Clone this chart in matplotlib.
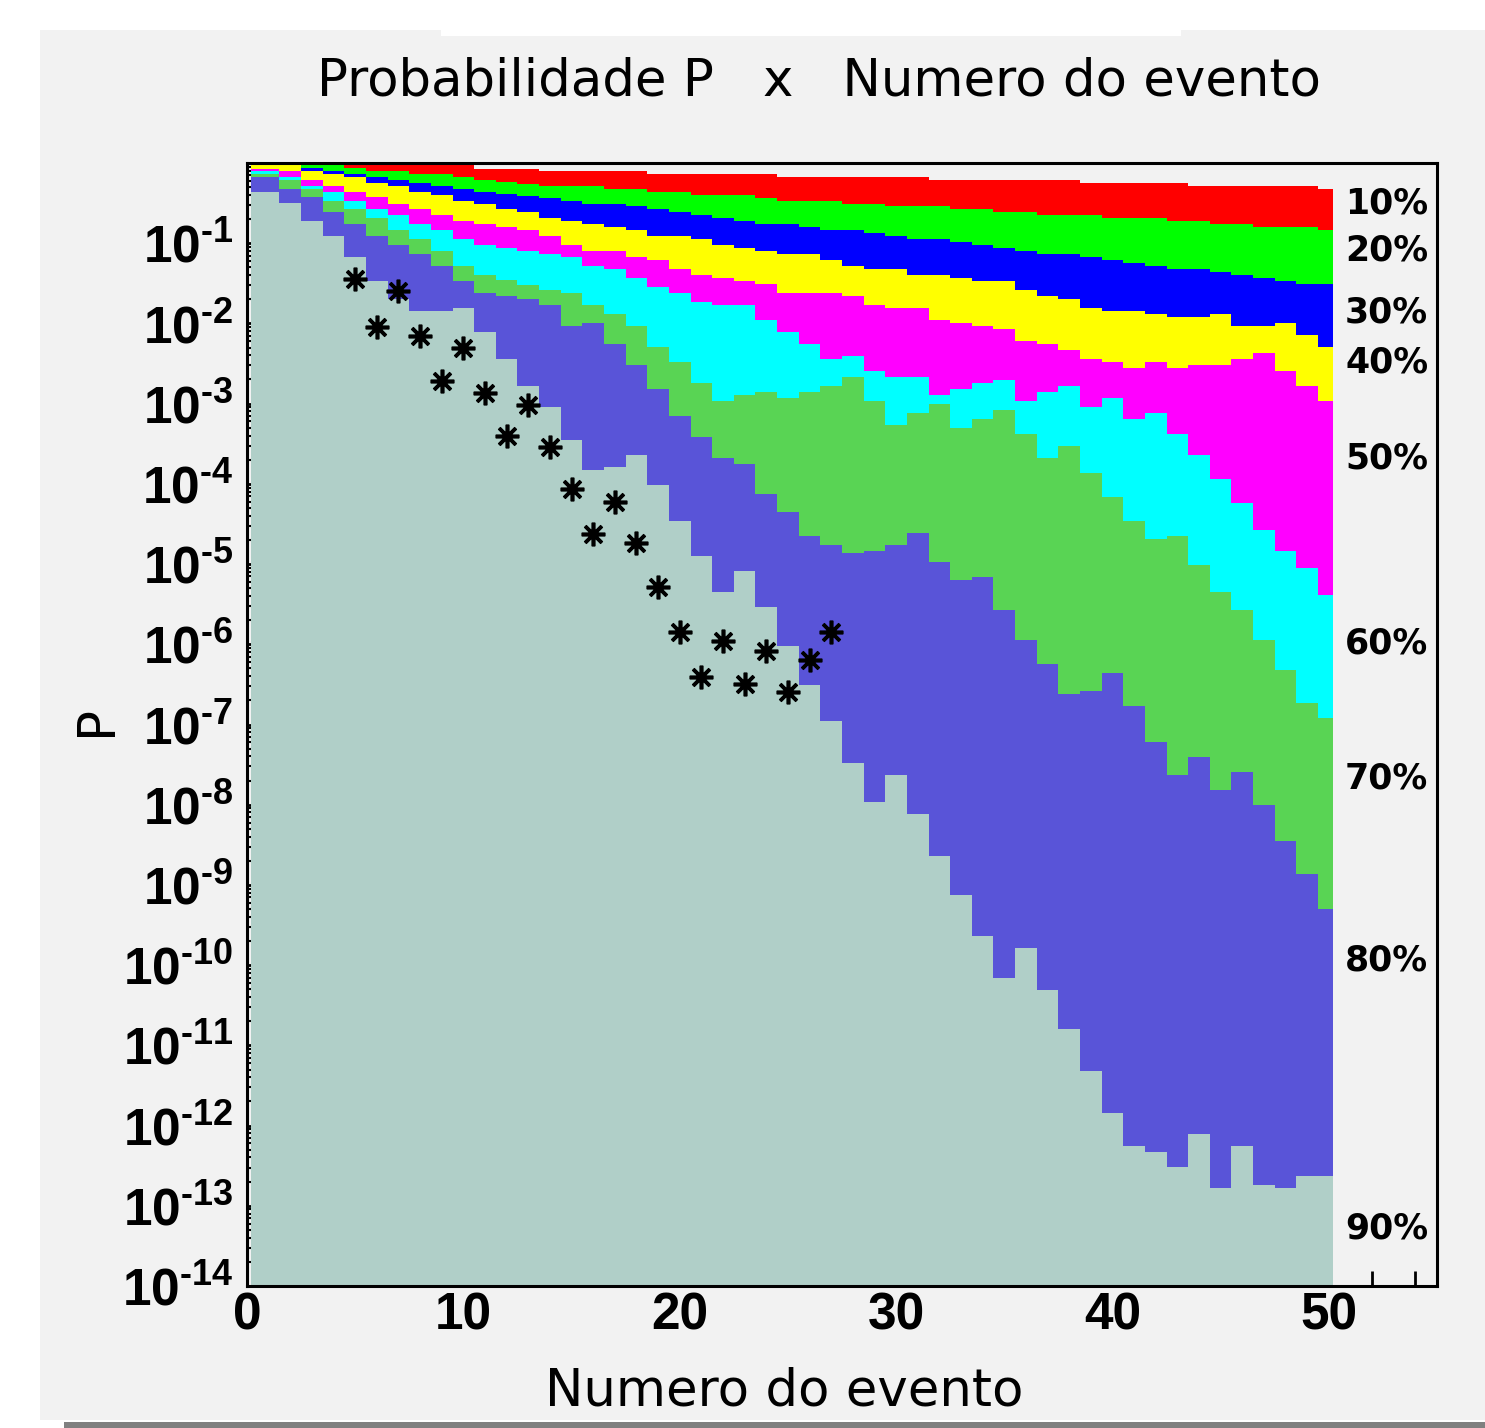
import numpy as np
import matplotlib.pyplot as plt
from matplotlib.patches import Rectangle
from matplotlib.ticker import FixedLocator, FixedFormatter, MultipleLocator, LogLocator, NullFormatter

plt.rcParams['mathtext.fontset'] = 'custom'
plt.rcParams['mathtext.rm'] = 'Liberation Sans:bold'
plt.rcParams['mathtext.it'] = 'Liberation Sans:bold'
plt.rcParams['mathtext.bf'] = 'Liberation Sans:bold'

# numero do evento (centro de cada bin)
evento = np.arange(1, 51)
# bordas dos bins como aparecem no grafico (primeiro e ultimo cortados)
bordas = np.concatenate([[0.2], np.arange(1.5, 50.0, 1.0), [50.2]])

# log10(P) de cada faixa
logp_10 = [0, 0, 0, 0, 0, 0, 0, -0.03, -0.03, -0.03,
           -0.07, -0.07, -0.07, -0.10, -0.10, -0.10, -0.10, -0.10, -0.14, -0.14,
           -0.14, -0.14, -0.14, -0.14, -0.18, -0.18, -0.18, -0.18, -0.18, -0.18,
           -0.18, -0.21, -0.21, -0.21, -0.21, -0.21, -0.21, -0.21, -0.25, -0.25,
           -0.25, -0.25, -0.25, -0.29, -0.29, -0.29, -0.29, -0.29, -0.29, -0.32]
logp_20 = [0, 0, 0, -0.03, -0.06, -0.10, -0.10, -0.14, -0.14, -0.18,
           -0.21, -0.24, -0.26, -0.29, -0.29, -0.29, -0.32, -0.32, -0.36, -0.36,
           -0.40, -0.40, -0.40, -0.44, -0.47, -0.47, -0.47, -0.51, -0.51, -0.54,
           -0.54, -0.54, -0.57, -0.57, -0.61, -0.61, -0.65, -0.65, -0.65, -0.69,
           -0.69, -0.69, -0.72, -0.72, -0.76, -0.76, -0.80, -0.80, -0.80, -0.84]
logp_30 = [0, 0, -0.06, -0.10, -0.14, -0.18, -0.21, -0.25, -0.29, -0.32,
           -0.36, -0.39, -0.41, -0.44, -0.47, -0.51, -0.51, -0.54, -0.57, -0.61,
           -0.65, -0.69, -0.72, -0.76, -0.76, -0.80, -0.84, -0.84, -0.87, -0.91,
           -0.95, -0.95, -0.99, -1.02, -1.06, -1.10, -1.14, -1.14, -1.17, -1.21,
           -1.25, -1.28, -1.32, -1.32, -1.36, -1.40, -1.43, -1.47, -1.51, -1.51]
logp_40 = [-0.03, -0.03, -0.10, -0.14, -0.18, -0.25, -0.29, -0.36, -0.40, -0.47,
           -0.51, -0.57, -0.61, -0.69, -0.72, -0.76, -0.80, -0.84, -0.91, -0.91,
           -0.95, -1.02, -1.06, -1.10, -1.14, -1.14, -1.21, -1.28, -1.32, -1.32,
           -1.40, -1.40, -1.43, -1.47, -1.47, -1.58, -1.66, -1.70, -1.81, -1.85,
           -1.85, -1.88, -1.92, -1.92, -1.88, -2.03, -2.03, -2.00, -2.14, -2.29]
logp_50 = [-0.07, -0.10, -0.21, -0.29, -0.36, -0.43, -0.51, -0.57, -0.65, -0.72,
           -0.76, -0.80, -0.84, -0.91, -1.02, -1.10, -1.10, -1.17, -1.21, -1.32,
           -1.40, -1.43, -1.47, -1.51, -1.62, -1.62, -1.62, -1.66, -1.77, -1.81,
           -1.81, -1.96, -2.00, -2.03, -2.07, -2.22, -2.26, -2.33, -2.44, -2.48,
           -2.56, -2.48, -2.56, -2.52, -2.52, -2.44, -2.37, -2.59, -2.78, -2.97]
logp_60 = [-0.10, -0.17, -0.29, -0.36, -0.47, -0.57, -0.65, -0.76, -0.84, -0.95,
           -1.02, -1.06, -1.10, -1.14, -1.17, -1.28, -1.32, -1.43, -1.55, -1.62,
           -1.73, -1.77, -1.77, -1.96, -2.11, -2.26, -2.44, -2.41, -2.59, -2.67,
           -2.67, -2.89, -2.82, -2.74, -2.71, -2.97, -2.86, -2.78, -3.04, -2.93,
           -3.19, -3.12, -3.38, -3.64, -3.94, -4.24, -4.58, -4.84, -5.05, -5.39]
logp_70 = [-0.14, -0.21, -0.32, -0.47, -0.57, -0.69, -0.84, -0.95, -1.10, -1.28,
           -1.40, -1.46, -1.52, -1.58, -1.62, -1.77, -1.88, -2.03, -2.29, -2.48,
           -2.74, -2.97, -2.89, -2.86, -2.93, -2.86, -2.78, -2.67, -2.97, -3.27,
           -3.12, -3.00, -3.30, -3.19, -3.08, -3.38, -3.68, -3.53, -3.87, -4.16,
           -4.46, -4.69, -4.65, -5.01, -5.35, -5.57, -5.95, -6.32, -6.73, -6.92]
logp_80 = [-0.17, -0.33, -0.43, -0.61, -0.76, -0.91, -1.02, -1.13, -1.28, -1.47,
           -1.62, -1.66, -1.70, -1.77, -2.03, -2.00, -2.26, -2.52, -2.82, -3.15,
           -3.42, -3.68, -3.75, -4.13, -4.35, -4.65, -4.76, -4.86, -4.84, -4.76,
           -4.61, -4.97, -5.20, -5.16, -5.57, -5.95, -6.25, -6.62, -6.58, -6.36,
           -6.77, -7.22, -7.63, -7.41, -7.82, -7.59, -8.00, -8.45, -8.86, -9.30]
logp_90 = [-0.36, -0.50, -0.72, -0.91, -1.17, -1.47, -1.70, -1.85, -1.85, -1.81,
           -2.11, -2.44, -2.78, -3.04, -3.45, -3.83, -3.79, -3.64, -4.01, -4.46,
           -4.90, -5.35, -5.09, -5.54, -6.02, -6.51, -6.96, -7.48, -7.97, -7.63,
           -8.12, -8.64, -9.13, -9.64, -10.16, -9.79, -10.31, -10.80, -11.32, -11.84,
           -12.26, -12.33, -12.52, -12.11, -12.78, -12.26, -12.74, -12.78, -12.63, -12.63]

faixas = [logp_10, logp_20, logp_30, logp_40, logp_50, logp_60, logp_70, logp_80, logp_90]
cores = ['#ff0000', '#00ff00', '#0000ff', '#ffff00', '#ff00ff', '#00ffff',
         '#59d454', '#5954d8', '#b0cfc8']
rotulos = ['10%', '20%', '30%', '40%', '50%', '60%', '70%', '80%', '90%']

# pontos medidos (asteriscos)
evento_pts = np.arange(5, 28)
logp_pts = [-1.45, -2.05, -1.60, -2.16, -2.72, -2.31, -2.87, -3.40, -3.02, -3.54,
            -4.07, -4.63, -4.22, -4.74, -5.29, -5.85, -6.41, -5.96, -6.49, -6.08,
            -6.60, -6.19, -5.85]

W, H = 1485, 1428
fig = plt.figure(figsize=(W / 100, H / 100), dpi=100)
fig.patch.set_facecolor('white')
# fundo cinza do canvas
fig.patches.append(Rectangle((40 / W, 8 / H), 1 - 40 / W, (1420 - 30) / H,
                             transform=fig.transFigure, facecolor='#f2f2f2',
                             edgecolor='none', zorder=-10))
fig.patches.append(Rectangle((441 / W, 1 - 36 / H), (1181 - 441) / W, 6 / H,
                             transform=fig.transFigure, facecolor='white',
                             edgecolor='none', zorder=-9))
fig.patches.append(Rectangle((64 / W, 0), 1 - 64 / W, 6 / H,
                             transform=fig.transFigure, facecolor='#808080',
                             edgecolor='none', zorder=-9))

ax = fig.add_axes([247 / W, 1 - 1286 / H, (1437 - 247) / W, (1286 - 163) / H])
ax.set_facecolor('#f2f2f2')
ax.set_yscale('log')
ax.set_axisbelow(True)

for vals, cor in zip(faixas, cores):
    ax.stairs(10 ** np.array(vals), bordas, baseline=1e-14, fill=True,
              color=cor, linewidth=0)

ax.plot(evento_pts, 10 ** np.array(logp_pts), linestyle='none', marker=(8, 2, 0),
        ms=17, mew=2.6, color='black', zorder=5)
ax.plot(evento_pts, 10 ** np.array(logp_pts), linestyle='none', marker='o',
        ms=6, color='black', zorder=5)

ax.set_xlim(0, 55)
ax.set_ylim(1e-14, 1)

ax.xaxis.set_major_locator(FixedLocator([0, 10, 20, 30, 40, 50]))
ax.xaxis.set_minor_locator(MultipleLocator(2))
ax.tick_params(axis='x', which='major', direction='in', length=22, width=2,
               top=False, pad=4)
ax.tick_params(axis='x', which='minor', direction='in', length=11, width=2, top=False)
for lb in ax.get_xticklabels():
    lb.set_fontfamily('Liberation Sans')
    lb.set_fontweight('bold')
    lb.set_fontsize(37)

dec = list(range(1, 15))
ax.yaxis.set_major_locator(FixedLocator([10.0 ** -k for k in dec]))
ax.yaxis.set_major_formatter(FixedFormatter([r'$10^{\text{-}%d}$' % k for k in dec]))
ax.yaxis.set_minor_locator(LogLocator(base=10, subs=np.arange(2, 10), numticks=200))
ax.yaxis.set_minor_formatter(NullFormatter())
ax.tick_params(axis='y', which='major', direction='in', length=8, width=2,
               right=False, pad=10, labelsize=37)
ax.tick_params(axis='y', which='minor', direction='in', length=5, width=1.5, right=False)

for sp in ax.spines.values():
    sp.set_linewidth(2.2)
    sp.set_zorder(6)

# rotulos das faixas a direita
pos_rotulos = [-0.51, -1.085, -1.858, -2.481, -3.69, -5.985, -7.667, -9.936, -13.278]
for txt, ly in zip(rotulos, pos_rotulos):
    ax.text(50.75, 10 ** ly, txt, ha='left', va='center', fontsize=25,
            fontweight='bold', family='DejaVu Sans', clip_on=False, zorder=7)

fig.text(819 / W, 1 - 95 / H, 'Probabilidade P   x   Numero do evento',
         ha='center', va='baseline', fontsize=37, family='DejaVu Sans')
fig.text(784 / W, 1 - 1405 / H, 'Numero do evento', ha='center', va='baseline',
         fontsize=37, family='DejaVu Sans')
fig.text(97 / W, 1 - 720 / H, 'P', ha='center', va='center', rotation=90,
         fontsize=37, family='DejaVu Sans')

fig.savefig('out.png', dpi=100, facecolor=fig.get_facecolor())
